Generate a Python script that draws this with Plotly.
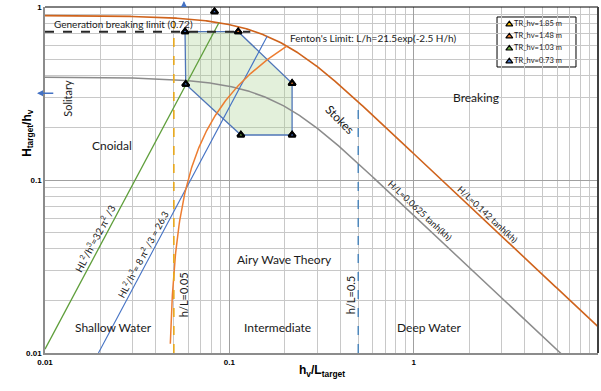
import numpy as np
import plotly.graph_objects as go

# ---- wave theory limits (Le Mehaute style diagram) ----
BREAK_COEF = 0.142          # H/L = 0.142 tanh(kh)
STOKES_COEF = 0.0625        # H/L = 0.0625 tanh(kh)
URSELL_CNOIDAL = 32 * np.pi ** 2 / 3   # HL^2/h^3
URSELL_STOKES = 8 * np.pi ** 2 / 3     # HL^2/h^3 = 26.3
FENTON_A = 21.5             # L/h = 21.5 exp(-2.5 H/h)
FENTON_B = 2.5
FENTON_START = 0.0113
GEN_BREAK_LIMIT = 0.72
GEN_BREAK_XEND = 0.13
SHALLOW_LIMIT = 0.05        # h/L
DEEP_LIMIT = 0.5            # h/L
Y_MIN = 0.01

# ---- test envelope (h_v/L_target, H_target/h_v) ----
envelope_x = [0.0575, 0.1117, 0.219, 0.219, 0.1155, 0.058, 0.0575]
envelope_y = [0.72, 0.72, 0.362, 0.182, 0.182, 0.358, 0.72]

series_names = ["TR_hv=1.85 m", "TR_hv=1.48 m", "TR_hv=1.03 m", "TR_hv=0.73 m"]
series_colors = ["#FFC000", "#ED7D31", "#70AD47", "#4472C4"]
series_x = [
    [0.1117, 0.219, 0.219],
    [0.1117, 0.219, 0.1155],
    [0.0575, 0.058, 0.1155, 0.0831],
    [0.0575, 0.058, 0.219, 0.0831],
]
series_y = [
    [0.72, 0.362, 0.182],
    [0.72, 0.362, 0.182],
    [0.72, 0.358, 0.182, 0.939],
    [0.72, 0.358, 0.182, 0.939],
]


def breaking(x):
    return BREAK_COEF * np.tanh(2 * np.pi * x) / x


def stokes(x):
    return STOKES_COEF * np.tanh(2 * np.pi * x) / x


def crossing(xs, f, g):
    d = f(xs) - g(xs)
    i = np.where(np.sign(d[:-1]) != np.sign(d[1:]))[0][0]
    return xs[i] - d[i] * (xs[i + 1] - xs[i]) / (d[i + 1] - d[i])


xs = np.logspace(-2, 1, 600)
fine = np.logspace(-2, 0, 20000)

# Ursell-type lines end where they meet the breaking limit
x_green_end = crossing(fine, lambda v: URSELL_CNOIDAL * v ** 2, breaking)
xg = np.logspace(-2, np.log10(x_green_end), 100)
yg = URSELL_CNOIDAL * xg ** 2

x_blue_start = np.sqrt(Y_MIN / URSELL_STOKES)
x_blue_end = crossing(fine, lambda v: URSELL_STOKES * v ** 2, breaking)
xb = np.logspace(np.log10(x_blue_start), np.log10(x_blue_end), 100)
yb = URSELL_STOKES * xb ** 2

# Fenton limit, parametrised by H/h
hh = np.linspace(FENTON_START, 1.0, 20000)
fx = np.exp(FENTON_B * hh) / FENTON_A
stop = np.where(hh > breaking(fx))[0][0]
yf = np.concatenate([np.geomspace(FENTON_START, 0.05, 60), np.linspace(0.05, hh[stop], 200)])
xf = np.exp(FENTON_B * yf) / FENTON_A

fig = go.Figure()

# envelope of tested conditions
fig.add_trace(go.Scatter(x=envelope_x, y=envelope_y, mode="lines", fill="toself",
                         fillcolor="rgba(169,208,142,0.32)",
                         line=dict(color="#4F75B8", width=1.3), hoverinfo="skip"))

# breaking limit H/L = 0.142 tanh(kh)
fig.add_trace(go.Scatter(x=xs, y=breaking(xs), mode="lines",
                         line=dict(color="#CF631C", width=1.6)))
# Stokes / Airy limit H/L = 0.0625 tanh(kh)
fig.add_trace(go.Scatter(x=xs, y=stokes(xs), mode="lines",
                         line=dict(color="#8C8C8C", width=1.5)))
# Ursell lines
fig.add_trace(go.Scatter(x=xg, y=yg, mode="lines", line=dict(color="#5E9E3A", width=1.3)))
fig.add_trace(go.Scatter(x=xb, y=yb, mode="lines", line=dict(color="#4472C4", width=1.1)))
# Fenton limit
fig.add_trace(go.Scatter(x=xf, y=yf, mode="lines", line=dict(color="#ED7D31", width=1.5)))
# shallow / deep water bounds
fig.add_trace(go.Scatter(x=[SHALLOW_LIMIT, SHALLOW_LIMIT], y=[Y_MIN, breaking(SHALLOW_LIMIT) * 0.96],
                         mode="lines", line=dict(color="#E8A81C", width=1.6, dash="dash")))
fig.add_trace(go.Scatter(x=[DEEP_LIMIT, DEEP_LIMIT], y=[Y_MIN, breaking(DEEP_LIMIT)],
                         mode="lines", line=dict(color="#2E75B6", width=1.2, dash="dash")))
# wave generation breaking limit
fig.add_trace(go.Scatter(x=[0.01, GEN_BREAK_XEND], y=[GEN_BREAK_LIMIT, GEN_BREAK_LIMIT],
                         mode="lines", line=dict(color="#262626", width=2, dash="dash")))

# measured test conditions
for name, col, sx, sy in zip(series_names, series_colors, series_x, series_y):
    fig.add_trace(go.Scatter(x=sx, y=sy, mode="markers", name=name,
                             marker=dict(symbol="triangle-up", size=6, color=col,
                                         line=dict(color="black", width=2.2))))

# compact legend on an overlay axis
legend_px = 0.8396
legend_py = [0.950, 0.915, 0.880, 0.843]
for name, col, py in zip(series_names, series_colors, legend_py):
    fig.add_trace(go.Scatter(x=[legend_px], y=[py], xaxis="x2", yaxis="y2",
                             mode="markers+text", text=[name], textposition="middle right",
                             textfont=dict(family="Lato", size=7.5, color="#1a1a1a"),
                             marker=dict(symbol="triangle-up", size=6, color=col,
                                         line=dict(color="black", width=1.2))))

TXT = "#1a1a1a"
FONT = "Lato"


def label(text, x, y, size=12, angle=0, xanchor="center"):
    fig.add_annotation(x=np.log10(x), y=np.log10(y), text=text, showarrow=False,
                       textangle=angle, xanchor=xanchor,
                       font=dict(family=FONT, size=size, color=TXT))


label("Generation breaking limit (0.72)", 0.0109, 0.795, size=10, xanchor="left")
label("Fenton's Limit: L/h=21.5exp(-2.5 H/h)", 0.208, 0.662, size=10, xanchor="left")
label("Solitary", 0.0133, 0.298, size=11, angle=-90)
label("Cnoidal", 0.0231, 0.159, size=12)
label("Stokes", 0.399, 0.225, size=12, angle=45)
label("Breaking", 2.18, 0.298, size=12)
label("H/L=0.0625 tanh(kh)", 1.08, 0.0662, size=9, angle=43)
label("H/L=0.142 tanh(kh)", 2.53, 0.0636, size=9, angle=43)
label("HL<sup>2</sup>/h<sup>3</sup>=32 π<sup>2</sup> /3", 0.01845, 0.0462, size=10, angle=-62)
label("HL<sup>2</sup>/h<sup>3</sup>= 8 π<sup>2</sup> /3 = 26.3", 0.0336, 0.0373, size=9.5, angle=-62)
label("h/L=0.05", 0.0561, 0.0216, size=11, angle=-90)
label("h/L=0.5", 0.452, 0.0216, size=11, angle=-90)
label("Airy Wave Theory", 0.198, 0.0345, size=12)
label("Shallow Water", 0.0235, 0.01395, size=12)
label("Intermediate", 0.1815, 0.01395, size=12)
label("Deep Water", 1.212, 0.01395, size=12)

# arrows: solitary limit beyond the plotted range
fig.add_annotation(x=np.log10(0.0567), y=np.log10(1.083), ax=np.log10(0.0567), ay=np.log10(0.985),
                   axref="x", ayref="y", showarrow=True, arrowhead=2, arrowsize=0.8,
                   arrowwidth=1.5, arrowcolor="#4472C4", text="")
fig.add_annotation(x=np.log10(0.00905), y=np.log10(0.317), ax=np.log10(0.0113), ay=np.log10(0.317),
                   axref="x", ayref="y", showarrow=True, arrowhead=2, arrowsize=0.8,
                   arrowwidth=1.5, arrowcolor="#4472C4", text="")

# axis titles
fig.add_annotation(xref="paper", yref="paper", x=0.501, y=-0.081, showarrow=False,
                   text="<b>h<sub>v</sub>/L<sub>target</sub></b>",
                   font=dict(family="Liberation Sans", size=12, color="black"))
fig.add_annotation(xref="paper", yref="paper", x=-0.049, y=0.636, showarrow=False, textangle=-90,
                   text="<b>H<sub>target</sub>/h<sub>v</sub></b>",
                   font=dict(family="Liberation Sans", size=12, color="black"))

# legend frame and plot border
fig.add_shape(type="rect", xref="paper", yref="paper", x0=0.8174, x1=0.9602, y0=0.8266, y1=0.9711,
              line=dict(color="black", width=1), fillcolor="white", layer="below")
fig.add_shape(type="line", xref="paper", yref="paper", x0=0, x1=1, y0=1, y1=1,
              line=dict(color="black", width=1))
fig.add_shape(type="line", xref="paper", yref="paper", x0=1, x1=1, y0=0, y1=1,
              line=dict(color="#404040", width=2))

tickfont = dict(family="Liberation Sans", size=8, color="black", weight="bold")
fig.update_layout(
    width=601, height=391,
    margin=dict(l=45, r=3, t=7, b=38),
    plot_bgcolor="white", paper_bgcolor="white",
    showlegend=False,
    xaxis=dict(type="log", range=[-2, 1], tickvals=[0.01, 0.1, 1, 10],
               ticktext=["0.01", "0.1", "1", "10"], showgrid=True, gridcolor="#A0A0A0",
               gridwidth=1.2, minor=dict(dtick="D1", showgrid=True, gridcolor="#C8C8C8", gridwidth=1),
               showline=True, linecolor="#8C8C8C", linewidth=2, ticks="", tickfont=tickfont,
               zeroline=False),
    yaxis=dict(type="log", range=[-2, 0], tickvals=[0.01, 0.1, 1],
               ticktext=["0.01", "0.1", "1"], showgrid=True, gridcolor="#A0A0A0",
               gridwidth=1.2, minor=dict(dtick="D1", showgrid=True, gridcolor="#C8C8C8", gridwidth=1),
               showline=True, linecolor="#8C8C8C", linewidth=1.5, ticks="", tickfont=tickfont,
               zeroline=False),
    xaxis2=dict(overlaying="x", range=[0, 1], visible=False),
    yaxis2=dict(overlaying="y", range=[0, 1], visible=False),
)

fig.write_html("out.html")
